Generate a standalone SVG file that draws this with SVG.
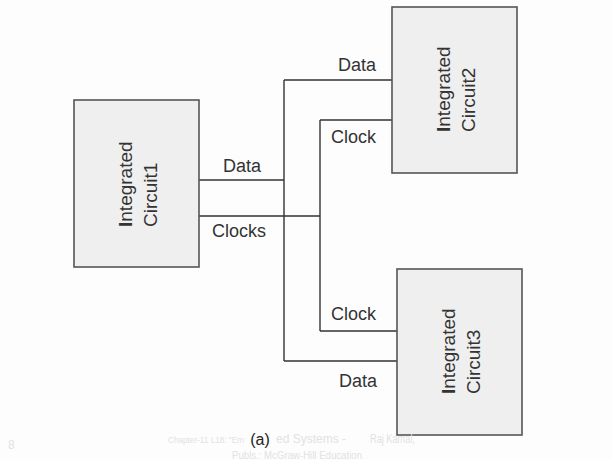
<svg xmlns="http://www.w3.org/2000/svg" width="613" height="460" viewBox="0 0 613 460">
<style>
.box{fill:#efefef;stroke:#555;stroke-width:1.6}
.wire{fill:none;stroke:#333;stroke-width:1.4}
.lbl{font-family:"Liberation Sans",Arial,sans-serif;font-size:18px;fill:#333}
.ic{font-family:"Liberation Sans",Arial,sans-serif;font-size:19px;fill:#333}
.b{font-weight:bold}
.foot{font-family:"Liberation Sans",Arial,sans-serif;font-size:12px;fill:#e2e2e2}
</style>
<rect width="613" height="460" fill="#fdfdfd"/>
<g id="connectors">
<path class="wire" d="M199 180H284M284 80V361M284 80H392M284 361H397"/>
<path class="wire" d="M199 216H320M320 120V331M320 120H392M320 331H397"/>
</g>
<g id="ic1">
<rect class="box" x="74" y="100" width="125" height="167"/>
<text class="ic" transform="translate(132,227) rotate(-90)"><tspan class="b">I</tspan>ntegrated</text>
<text class="ic" transform="translate(157,227) rotate(-90)">Circuit1</text>
</g>
<g id="ic2">
<rect class="box" x="392" y="7" width="125" height="166"/>
<text class="ic" transform="translate(450,132) rotate(-90)"><tspan class="b">I</tspan>ntegrated</text>
<text class="ic" transform="translate(475,132) rotate(-90)">Circuit2</text>
</g>
<g id="ic3">
<rect class="box" x="397" y="269" width="125" height="166"/>
<text class="ic" transform="translate(455,394) rotate(-90)"><tspan class="b">I</tspan>ntegrated</text>
<text class="ic" transform="translate(480,394) rotate(-90)">Circuit3</text>
</g>
<g id="labels">
<text class="lbl" x="223" y="172">Data</text>
<text class="lbl" x="212" y="237">Clocks</text>
<text class="lbl" x="338" y="71">Data</text>
<text class="lbl" x="331" y="143">Clock</text>
<text class="lbl" x="331" y="320">Clock</text>
<text class="lbl" x="339" y="387">Data</text>
</g>
<g id="footer">
<text class="foot" x="168" y="443" style="font-size:8.2px">Chapter-11 L18: "Em</text>
<text class="foot" x="276" y="443" textLength="70" lengthAdjust="spacingAndGlyphs">ed Systems -</text>
<text class="foot" x="370" y="443" textLength="45" lengthAdjust="spacingAndGlyphs">Raj Kamal,</text>
<text class="foot" x="232" y="459" style="font-size:10px" textLength="130" lengthAdjust="spacingAndGlyphs">Publs.: McGraw-Hill Education</text>
<text class="foot" x="8" y="449">8</text>
<text x="260" y="445" text-anchor="middle" style="font-family:'Liberation Sans',Arial,sans-serif;font-size:16px;fill:#222">(a)</text>
</g>
</svg>
